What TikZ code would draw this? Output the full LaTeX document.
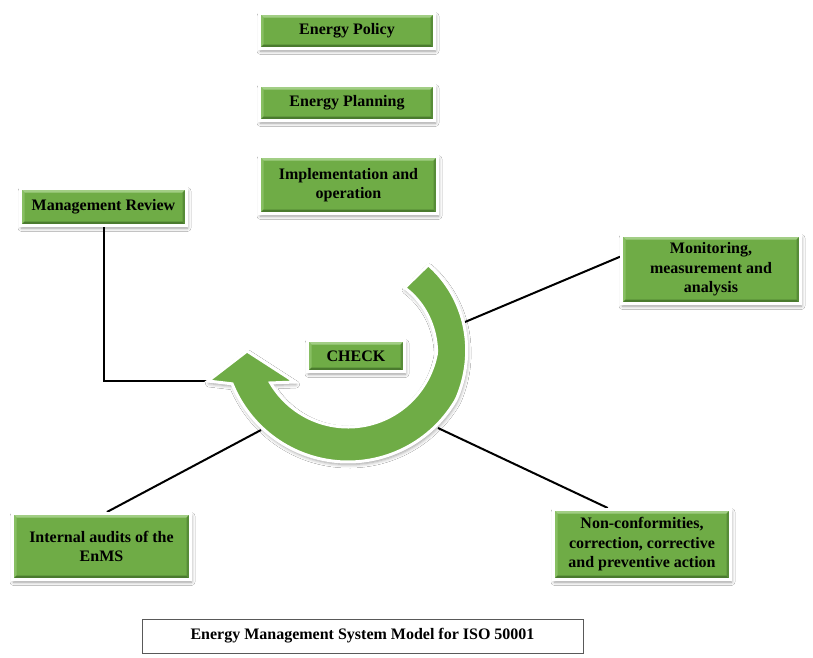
\documentclass[tikz,border=0pt]{standalone}
\usepackage{fontspec}
\setmainfont{Liberation Serif}
\usetikzlibrary{calc,shadows.blur}
\definecolor{gMain}{HTML}{6FAC46}
\definecolor{gTop}{HTML}{A2CE85}
\definecolor{gLeft}{HTML}{88BF63}
\definecolor{gBot}{HTML}{4A7A2E}
\definecolor{gRight}{HTML}{578C37}
\pgfdeclarelayer{bg}
\pgfsetlayers{bg,main}
\begin{document}
\begin{tikzpicture}[x=1pt,y=-1pt,
  softshadow/.style={blur shadow={shadow xshift=1pt, shadow yshift=-2.5pt,
      shadow blur radius=3.5pt, shadow opacity=40}},
  bevel/.style={path picture={
      \fill[gTop] (path picture bounding box.north west) -- (path picture bounding box.north east)
        -- ([shift={(-4pt,-4pt)}]path picture bounding box.north east)
        -- ([shift={(4pt,-4pt)}]path picture bounding box.north west) -- cycle;
      \fill[gLeft] (path picture bounding box.north west) -- (path picture bounding box.south west)
        -- ([shift={(4pt,4pt)}]path picture bounding box.south west)
        -- ([shift={(4pt,-4pt)}]path picture bounding box.north west) -- cycle;
      \fill[gBot] (path picture bounding box.south west) -- (path picture bounding box.south east)
        -- ([shift={(-4pt,4pt)}]path picture bounding box.south east)
        -- ([shift={(4pt,4pt)}]path picture bounding box.south west) -- cycle;
      \fill[gRight] (path picture bounding box.north east) -- (path picture bounding box.south east)
        -- ([shift={(-4pt,4pt)}]path picture bounding box.south east)
        -- ([shift={(-4pt,-4pt)}]path picture bounding box.north east) -- cycle;
  }},
  gbox/.style={rectangle, fill=gMain, draw=white, line width=3pt, softshadow, bevel,
      align=center, inner sep=2pt, text=black,
      font=\bfseries\fontsize{16}{19.5}\selectfont},
  link/.style={draw=black, line width=2pt},
  titlebox/.style={rectangle, draw=black!65, line width=1pt, fill=white,
      font=\bfseries\fontsize{16}{19}\selectfont}
]
\useasboundingbox (0,0) rectangle (813,657);

% PDCA step boxes
\node[gbox, minimum width=175pt, minimum height=35pt] (pol)   at (347,31)     {Energy Policy};
\node[gbox, minimum width=175pt, minimum height=35pt] (plan)  at (347,103)    {Energy Planning};
\node[gbox, minimum width=178pt, minimum height=57pt] (impl)  at (348.5,185)  {Implementation and\\operation};
\node[gbox, minimum width=166pt, minimum height=37pt] (mr)    at (103.5,207)  {Management Review};
\node[gbox, minimum width=179pt, minimum height=68pt] (mon)   at (711,269.5)  {Monitoring,\\measurement and\\analysis};
\node[gbox, minimum width=97pt,  minimum height=31pt] (check) at (356,356)    {CHECK};
\node[gbox, minimum width=178pt, minimum height=66pt] (ia)    at (101.5,546.5) {Internal audits of the\\EnMS};
\node[gbox, minimum width=177pt, minimum height=70pt] (nc)    at (642,544.5)  {Non-conformities,\\correction, corrective\\and preventive action};

% curved CHECK arrow (spiral shaft narrowing towards its tail)
\path[fill=gMain, draw=white, line width=3pt, line join=miter, softshadow]
  plot[domain=42:-158, samples=100, variable=\t]
    ({348+(125-17*max(0,\t+30)/72)*cos(\t)}, {337-(125-17*max(0,\t+30)/72)*sin(\t)})
  -- (208,381) -- (247,351) -- (295,382)
  -- plot[domain=-149.3:41, samples=100, variable=\t]
    ({348+(90-15*max(0,\t+10)/51)*cos(\t)}, {337-(90-15*max(0,\t+10)/51)*sin(\t)})
  -- cycle;

% points on the arrow where the connectors start
\coordinate (headL) at (208,381);
\coordinate (arcR)  at (465,322);
\coordinate (arcBR) at (438,428);
\coordinate (arcBL) at (261,430);

\begin{pgfonlayer}{bg}
  \fill[white] (0,0) rectangle (813,657);
  \draw[link] (mr.south) -- (mr.south |- headL) -- (headL);
  \draw[link] (arcR)  -- ($(mon.north west)!0.32!(mon.south west)$);
  \draw[link] (arcBR) -- ($(nc.north west)!0.31!(nc.north east)$);
  \draw[link] (arcBL) -- ($(ia.north west)!0.53!(ia.north east)$);
\end{pgfonlayer}

% caption
\node[titlebox, minimum width=441pt, minimum height=34pt] (cap) at (362.5,636)
  {Energy Management System Model for ISO 50001};
\end{tikzpicture}
\end{document}
